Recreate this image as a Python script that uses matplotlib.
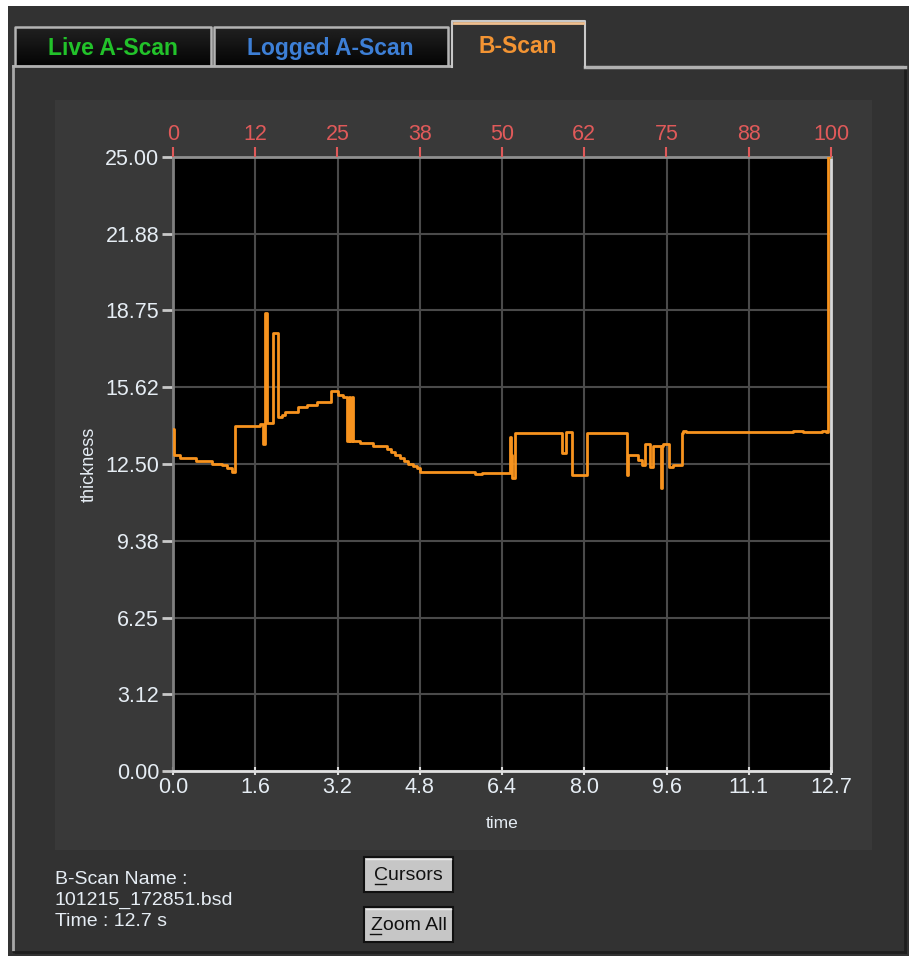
import matplotlib.pyplot as plt
import matplotlib.patches as mpatches
import numpy as np

plt.rcParams['font.family'] = ['Liberation Sans Narrow', 'Liberation Sans', 'DejaVu Sans']

# b-scan trace (time in s, thickness), drawn as steps
time_s = [0.00, 0.01, 0.14, 0.44, 0.75, 0.95, 1.04, 1.14, 1.20, 1.68, 1.74, 1.78, 1.81,
          1.93, 2.03, 2.10, 2.16, 2.41, 2.59, 2.78, 3.05, 3.18, 3.28, 3.36, 3.39, 3.42,
          3.45, 3.47, 3.61, 3.86, 4.13, 4.20, 4.29, 4.38, 4.46, 4.54, 4.63, 4.71, 4.77,
          5.83, 5.96, 6.50, 6.52, 6.55, 6.60, 7.51, 7.59, 7.70, 7.99, 8.76, 8.79, 8.98,
          9.05, 9.11, 9.21, 9.27, 9.32, 9.41, 9.43, 9.46, 9.58, 9.66, 9.82, 9.85, 9.90,
          9.95, 11.97, 12.16, 12.53, 12.60, 12.64, 12.70]
thickness = [13.92, 12.87, 12.74, 12.62, 12.50, 12.45, 12.34, 12.17, 14.05, 14.12, 13.30, 18.65, 14.17,
             17.83, 14.41, 14.50, 14.62, 14.82, 14.90, 15.02, 15.47, 15.30, 15.23, 13.44, 15.23, 13.44,
             15.23, 13.44, 13.35, 13.23, 13.10, 13.00, 12.87, 12.74, 12.62, 12.50, 12.42, 12.34, 12.17,
             12.10, 12.13, 13.60, 12.87, 11.93, 13.76, 12.95, 13.80, 12.05, 13.76, 12.05, 12.87, 12.66,
             12.46, 13.31, 12.38, 13.23, 13.23, 11.52, 13.23, 13.31, 12.38, 12.46, 13.76, 13.85, 13.80,
             13.80, 13.85, 13.80, 13.85, 13.80, 25.00, 25.00]

ytick_vals = [0, 3.125, 6.25, 9.375, 12.5, 15.625, 18.75, 21.875, 25]
ytick_labels = ['0.00', '3.12', '6.25', '9.38', '12.50', '15.62', '18.75', '21.88', '25.00']
xtick_labels = ['0.0', '1.6', '3.2', '4.8', '6.4', '8.0', '9.6', '11.1', '12.7']
top_labels = ['0', '12', '25', '38', '50', '62', '75', '88', '100']
t_max = 12.7

tab_names = ['Live A-Scan', 'Logged A-Scan', 'B-Scan']
tab_colors = ['#22c22a', '#3d7fd6', '#f39433']
info_lines = ['B-Scan Name :', '101215_172851.bsd', 'Time : 12.7 s']
buttons = ['Cursors', 'Zoom All']

W, H = 909, 956
fig = plt.figure(figsize=(W / 100, H / 100), dpi=100, facecolor='white')

# background "window" drawn in pixel coords
bg = fig.add_axes([0, 0, 1, 1])
bg.set_xlim(0, W)
bg.set_ylim(H, 0)
bg.axis('off')

def rect(x0, y0, x1, y1, **kw):
    bg.add_patch(mpatches.Rectangle((x0, y0), x1 - x0, y1 - y0, **kw))

rect(8, 6, W, H, color='#323232', lw=0)
# panel outline
bg.plot([13, 13], [66, 952], color='#a8a8a8', lw=2)
bg.plot([13, 905], [952, 952], color='#1e1e1e', lw=2)
bg.plot([905, 905], [66, 952], color='#1e1e1e', lw=2)
bg.plot([585, 905], [67, 67], color='#b0b0b0', lw=2.5)
bg.plot([13, 450], [66, 66], color='#b0b0b0', lw=2)

# tabs
tabs_x = [(14, 211), (213, 448), (451, 585)]
for (x0, x1), name, col in zip(tabs_x, tab_names, tab_colors):
    if name == 'B-Scan':
        rect(x0, 21, x1, 68, color='#323232', lw=0)
        bg.plot([x0 + 1, x0 + 1, x1, x1], [67, 21, 21, 67], color='#c8c8c8', lw=1.5)
        bg.plot([x0 + 3, x1 - 2], [22.5, 22.5], color='#f0c090', lw=2)
        bg.text((x0 + x1) / 2, 46, name, color=col, fontsize=16.5, fontweight='bold',
                ha='center', va='center')
    else:
        grad = np.linspace(0.13, 0.02, 40).reshape(-1, 1)
        bg.imshow(grad, extent=(x0, x1, 65, 27), cmap='gray', vmin=0, vmax=1,
                  aspect='auto', zorder=1)
        bg.plot([x0 + 1, x0 + 1, x1, x1], [65, 27, 27, 65], color='#b4b4b4', lw=1.8, zorder=2)
        bg.text((x0 + x1) / 2, 48, name, color=col, fontsize=16.5, fontweight='bold',
                ha='center', va='center', zorder=3)
bg.set_xlim(0, W)
bg.set_ylim(H, 0)

# chart bezel with shading
rect(55, 100, 872, 850, color='#393939', lw=0)
shade_l = np.linspace(0.29, 0.23, 30).reshape(1, -1)
bg.imshow(shade_l, extent=(55, 78, 850, 100), cmap='gray', vmin=0, vmax=1, aspect='auto')
shade_r = np.linspace(0.225, 0.05, 30).reshape(1, -1)
bg.imshow(shade_r, extent=(846, 872, 850, 100), cmap='gray', vmin=0, vmax=1, aspect='auto')
shade_b = np.linspace(0.225, 0.11, 20).reshape(-1, 1)
bg.imshow(shade_b, extent=(78, 846, 850, 834), cmap='gray', vmin=0, vmax=1, aspect='auto')
shade_t = np.linspace(0.14, 0.225, 10).reshape(-1, 1)
bg.imshow(shade_t, extent=(78, 846, 108, 100), cmap='gray', vmin=0, vmax=1, aspect='auto')
bg.set_xlim(0, W)
bg.set_ylim(H, 0)

# info text
for i, line in enumerate(info_lines):
    bg.text(55, 879 + i * 21, line, color='#e6edf4', fontsize=14, ha='left', va='center')

# buttons
for i, label in enumerate(buttons):
    y0 = 857 + i * 50
    rect(364, y0, 453, y0 + 35, facecolor='#c6c6c6', edgecolor='#101010', lw=1.5)
    bg.plot([366, 451], [y0 + 2, y0 + 2], color='#ececec', lw=1)
    bg.text(408.5, y0 + 18, label, color='#111111', fontsize=14, ha='center', va='center')
    ux = 375 if i == 0 else 370
    bg.plot([ux, ux + 11], [y0 + 27, y0 + 27], color='#111111', lw=1)

# plot area
left, right, top, bottom = 173, 831, 157, 771
ax = fig.add_axes([left / W, 1 - bottom / H, (right - left) / W, (bottom - top) / H])
ax.set_facecolor('black')
ax.plot(time_s, thickness, drawstyle='steps-post', color='#f7931e', lw=2, zorder=3)
ax.set_xlim(0, t_max)
ax.set_ylim(0, 25)
ax.set_xticks([t_max * i / 8 for i in range(9)])
ax.set_xticklabels(xtick_labels)
ax.set_yticks(ytick_vals)
ax.set_yticklabels(ytick_labels)
ax.grid(True, color='#4a4a4a', lw=1.5)
ax.tick_params(axis='y', colors='#c8c8c8', labelcolor='#e6edf4', labelsize=15.5,
               length=8, width=2, pad=2, direction='out')
ax.tick_params(axis='x', colors='#dddddd', labelcolor='#e6edf4', labelsize=15.5,
               length=6, width=1.5, pad=1, direction='inout')
ax.set_xlabel('time', color='#e6edf4', fontsize=12.5, labelpad=13)
ax.set_ylabel('thickness', color='#e6edf4', fontsize=13, labelpad=5)
ax.spines['left'].set_color('#808080')
ax.spines['top'].set_color('#909090')
ax.spines['right'].set_color('#d8d8d8')
ax.spines['bottom'].set_color('#e0e0e0')
for s in ax.spines.values():
    s.set_linewidth(2)

ax2 = ax.twiny()
ax2.set_xlim(0, 100)
ax2.set_xticks([12.5 * i for i in range(9)])
ax2.set_xticklabels(top_labels)
ax2.tick_params(axis='x', colors='#e05a5a', labelsize=15.5, length=7, width=1.5, pad=2)
for s in ax2.spines.values():
    s.set_visible(False)

fig.savefig('out.png', dpi=100, facecolor='white')
